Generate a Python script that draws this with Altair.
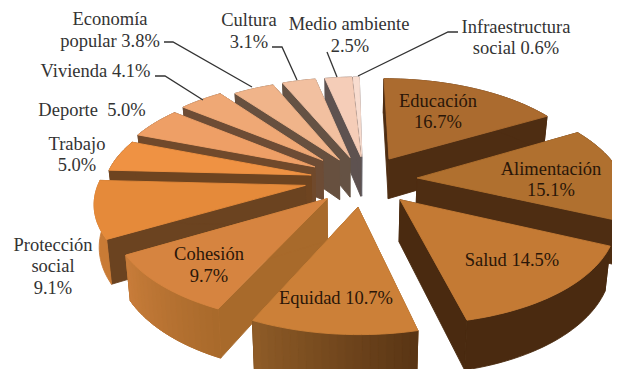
import math
import altair as alt
import pandas as pd

# ---- chart values ----
categories = ["Educación", "Alimentación", "Salud", "Equidad", "Cohesión", "Protección social", "Trabajo",
              "Deporte", "Vivienda", "Economía popular", "Cultura", "Medio ambiente", "Infraestructura social"]
shares = [16.7, 15.1, 14.5, 10.7, 9.7, 9.1, 5.0, 5.0, 4.1, 3.8, 3.1, 2.5, 0.6]

# ---- slice styling ----
explode_x = [0.196, 0.327, 0.236, 0.037, -0.108, -0.215, -0.19, -0.174, -0.136, -0.053, 0.0, 0.055, 0.06]
explode_y = [0.064, -0.135, -0.35, -0.42, -0.34, -0.21, -0.105, -0.02, 0.05, 0.054, 0.08, 0.089, 0.09]
top_colors = ["#ab6b2f", "#b0702f", "#c47a34", "#cc8038", "#d68440", "#e58a3a", "#ef9243",
              "#ee9f66", "#efa875", "#f0b48a", "#f2c0a0", "#f5cdb8", "#f8dccf"]
edge_colors = ["#4e2d12", "#4e2d12", "#4a2a10", "#8f5c27", "#a86a2b", "#6b4320", "#6e4420",
               "#70492b", "#6d4c35", "#67503f", "#655244", "#5e5250", "#6b6a70"]
outer_from = ["#4e2d12", "#4e2d12", "#4a2a10", "#8f5c27", "#c87c3a", "#c97b35", "#6e4420",
              "#70492b", "#6d4c35", "#67503f", "#655244", "#5e5250", "#6b6a70"]
outer_to = ["#4e2d12", "#4e2d12", "#4a2a10", "#583414", "#a86a2b", "#c97b35", "#6e4420",
            "#70492b", "#6d4c35", "#67503f", "#655244", "#5e5250", "#6b6a70"]
draw_order = [12, 11, 10, 9, 8, 7, 6, 5, 4, 0, 1, 2, 3]

# ---- text labels ----
label_lines = ["Economía", "popular 3.8%", "Cultura", "3.1%", "Medio ambiente", "2.5%", "Infraestructura",
               "social 0.6%", "Vivienda 4.1%", "Deporte\u00a0 5.0%", "Trabajo", "5.0%", "Protección", "social",
               "9.1%", "Educación", "16.7%", "Alimentación", "15.1%", "Salud 14.5%", "Equidad 10.7%",
               "Cohesión", "9.7%"]
label_x = [110, 110, 249, 249, 349, 350, 516, 516, 95.5, 92, 77, 77, 53, 53, 53, 438, 438, 551, 551, 512, 336, 209, 209]
label_y = [19, 41, 20, 42, 24, 46, 27, 48, 71, 110, 144, 165, 245, 266, 288, 101, 122, 169, 190, 260, 298, 254, 276]
label_color = ["#333333"] * 15 + ["#2a1608"] * 8

# ---- leader lines ----
leader_ids = ["a", "a", "a", "b", "b", "b", "c", "c", "c", "d", "d", "e", "e", "e"]
leader_x = [164, 173, 252, 272, 282, 297, 155, 165, 203, 327, 337, 458, 448, 358]
leader_y = [42, 42, 87, 47, 47, 80, 76, 76, 100, 52, 77, 32, 32, 76]

# ---- projection of the tilted disc ----
CX, CY, AX, BY, K, DEPTH = 350, 165, 201, 94, 0.15, 40


def project(x, y):
    w = 1 + K * y
    return CX + AX * x / w, CY - BY * y / w, w


def lower(x, y):
    px, py, w = project(x, y)
    return CX + 0.98 * (px - CX), py + DEPTH / w


def mix(a, b, t):
    ca = [int(a[i:i + 2], 16) for i in (1, 3, 5)]
    cb = [int(b[i:i + 2], 16) for i in (1, 3, 5)]
    return "#%02x%02x%02x" % tuple(round(p + (q - p) * t) for p, q in zip(ca, cb))


rows = []
poly_no = [0]


def add_poly(points, color):
    name = "p%05d" % poly_no[0]
    poly_no[0] += 1
    closed = list(points) + [points[0]]
    for i, (px, py) in enumerate(closed):
        rows.append({"poly": name, "seq": i, "px": px, "py": py, "fill": color})


starts = []
total = 0.0
for s in shares:
    starts.append(total)
    total += s

for k in draw_order:
    a0 = starts[k] / 100 * 2 * math.pi
    a1 = (starts[k] + shares[k]) / 100 * 2 * math.pi
    tx, ty = explode_x[k], explode_y[k]
    n = max(2, int(shares[k] * 2))
    arc = [(tx + math.sin(a0 + (a1 - a0) * i / n), ty + math.cos(a0 + (a1 - a0) * i / n)) for i in range(n + 1)]
    # radial walls
    for end in (arc[0], arc[-1]):
        add_poly([project(tx, ty)[:2], project(*end)[:2], lower(*end), lower(tx, ty)], edge_colors[k])
    # rim: one solid band, then its shading
    add_poly([project(*p)[:2] for p in arc] + [lower(*p) for p in reversed(arc)],
             mix(outer_from[k], outer_to[k], 0.5))
    if outer_from[k] != outer_to[k]:
        for i in range(n):
            p, q = arc[i], arc[i + 1]
            add_poly([project(*p)[:2], project(*q)[:2], lower(*q), lower(*p)],
                     mix(outer_from[k], outer_to[k], 1 - (i + 0.5) / n if k in (3, 4, 5) else (i + 0.5) / n))
    # top face
    add_poly([project(tx, ty)[:2]] + [project(*p)[:2] for p in arc], top_colors[k])

faces = pd.DataFrame(rows)
labels = pd.DataFrame({"text": label_lines, "x": label_x, "y": label_y, "c": label_color})
leaders = pd.DataFrame({"id": leader_ids, "x": leader_x, "y": leader_y, "seq": range(len(leader_x))})

xs = alt.Scale(domain=[8, 612], nice=False, zero=False)
ys = alt.Scale(domain=[369, 8], nice=False, zero=False)

face_layer = alt.Chart(faces).mark_line(strokeWidth=0.9, strokeJoin="round", clip=True, interpolate="linear").encode(
    x=alt.X("px:Q", scale=xs, axis=None),
    y=alt.Y("py:Q", scale=ys, axis=None),
    detail="poly:N",
    order=alt.Order("seq:Q"),
    fill=alt.Fill("fill:N", scale=None),
    stroke=alt.Stroke("fill:N", scale=None),
)

leader_layer = alt.Chart(leaders).mark_line(color="#333333", strokeWidth=1.3).encode(
    x=alt.X("x:Q", scale=xs, axis=None),
    y=alt.Y("y:Q", scale=ys, axis=None),
    detail="id:N",
    order=alt.Order("seq:Q"),
)

text_layer = alt.Chart(labels).mark_text(font="Liberation Serif", fontSize=18.5, align="center", baseline="middle").encode(
    x=alt.X("x:Q", scale=xs, axis=None),
    y=alt.Y("y:Q", scale=ys, axis=None),
    text="text:N",
    color=alt.Color("c:N", scale=None),
)

chart = alt.layer(face_layer, leader_layer, text_layer).properties(
    width=604, height=361, padding=0, autosize=alt.AutoSizeParams(type="none")
).configure_view(stroke=None)

chart.save("out.html", embed_options={"renderer": "svg", "actions": False})
